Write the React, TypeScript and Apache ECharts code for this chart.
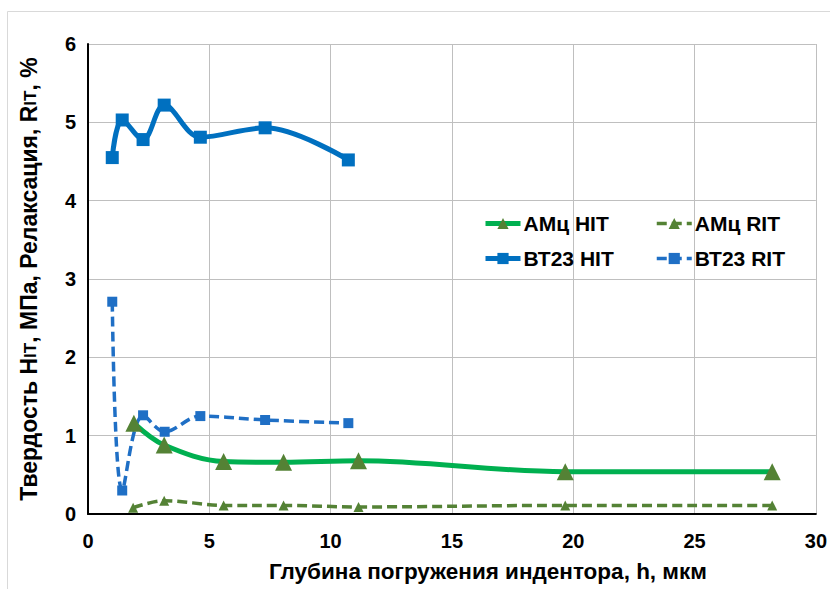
import React, { useEffect, useRef } from "react";
import * as echarts from "echarts";

const amcHitX = [1.89, 3.14, 5.59, 8.06, 11.15, 19.67, 28.2];
const amcHitY = [1.16, 0.88, 0.67, 0.66, 0.68, 0.54, 0.54];
const amcRitX = [1.86, 3.14, 5.59, 8.06, 11.15, 19.67, 28.2];
const amcRitY = [0.08, 0.17, 0.11, 0.11, 0.09, 0.11, 0.11];
const bt23HitX = [1.0, 1.41, 2.27, 3.14, 4.63, 7.3, 10.73];
const bt23HitY = [4.55, 5.03, 4.78, 5.22, 4.81, 4.93, 4.52];
const bt23RitX = [1.0, 1.41, 2.27, 3.16, 4.63, 7.3, 10.73];
const bt23RitY = [2.71, 0.3, 1.26, 1.05, 1.25, 1.2, 1.16];

const names = ["АМц HIT", "АМц RIT", "ВТ23 HIT", "ВТ23 RIT"];

const zip = (xs: number[], ys: number[]) => xs.map((x, i) => [x, ys[i]]);

const FONT = "'Liberation Sans', Arial, sans-serif";

export default function App() {
  const ref = useRef<HTMLDivElement>(null);
  useEffect(() => {
    document.body.style.margin = "0";
    const chart = echarts.init(ref.current!, null, { renderer: "svg" });
    const legendText = { fontFamily: FONT, fontSize: 21, fontWeight: "bold", color: "#000", padding: [0, 0, 0, -2] };
    chart.setOption({
      animation: false,
      backgroundColor: "#ffffff",
      textStyle: { fontFamily: FONT },
      graphic: [
        {
          type: "rect",
          shape: { x: 7.5, y: 11.5, width: 900, height: 700 },
          style: { fill: "none", stroke: "#d9d9d9", lineWidth: 1 },
          silent: true,
        },
      ],
      grid: { left: 88, right: 14, top: 44, bottom: 75 },
      legend: [
        {
          data: [names[0], names[2]],
          orient: "vertical",
          left: 478,
          top: 208,
          itemWidth: 35,
          itemHeight: 14,
          itemGap: 14,
          lineStyle: { width: 5 },
          textStyle: legendText,
        },
        {
          data: [names[1], names[3]],
          orient: "vertical",
          left: 650,
          top: 208,
          itemWidth: 35,
          itemHeight: 14,
          itemGap: 14,
          lineStyle: { width: 3.5 },
          textStyle: legendText,
        },
      ],
      xAxis: {
        type: "value",
        min: 0,
        max: 30,
        interval: 5,
        name: "Глубина погружения индентора, h, мкм",
        nameLocation: "middle",
        nameGap: 46,
        nameTextStyle: { fontFamily: FONT, fontSize: 22.5, fontWeight: "bold", color: "#000", padding: [0, 0, 0, 72] },
        axisLine: { lineStyle: { color: "#000", width: 2 } },
        axisTick: { show: false },
        axisLabel: { margin: 17, fontFamily: FONT, fontSize: 20, fontWeight: "bold", color: "#000" },
        splitLine: { show: true, lineStyle: { color: "#bfbfbf", width: 1 } },
      },
      yAxis: {
        type: "value",
        min: 0,
        max: 6,
        interval: 1,
        name:
          "{a|Твердость H}{b|IT}{a|, МПа, Релаксация, R}{b|IT}{a|, %}",
        nameLocation: "middle",
        nameGap: 48,
        nameTextStyle: {
          fontFamily: FONT,
          fontSize: 23,
          fontWeight: "bold",
          color: "#000",
          rich: {
            a: { fontFamily: FONT, fontSize: 23, fontWeight: "bold", color: "#000" },
            b: { fontFamily: FONT, fontSize: 17, fontWeight: "bold", color: "#000", verticalAlign: "bottom", padding: [0, 0, 1, 0] },
          },
        },
        axisLine: { show: true, lineStyle: { color: "#000", width: 2 } },
        axisTick: { show: false },
        axisLabel: { margin: 12, fontFamily: FONT, fontSize: 20, fontWeight: "bold", color: "#000" },
        splitLine: { show: true, lineStyle: { color: "#bfbfbf", width: 1 } },
      },
      series: [
        {
          name: names[0],
          type: "line",
          smooth: 0.35,
          data: zip(amcHitX, amcHitY),
          symbol: "triangle",
          symbolSize: 17,
          itemStyle: { color: "#548235" },
          lineStyle: { color: "#00b050", width: 5 },
          z: 3,
        },
        {
          name: names[1],
          type: "line",
          smooth: 0.35,
          data: zip(amcRitX, amcRitY),
          symbol: "triangle",
          symbolSize: 10,
          itemStyle: { color: "#548235" },
          lineStyle: { color: "#548235", width: 3.5, type: [10, 5] },
          z: 2,
        },
        {
          name: names[2],
          type: "line",
          smooth: 0.35,
          data: zip(bt23HitX, bt23HitY),
          symbol: "rect",
          symbolSize: 13,
          itemStyle: { color: "#0070c0" },
          lineStyle: { color: "#0070c0", width: 5 },
          z: 3,
        },
        {
          name: names[3],
          type: "line",
          smooth: 0.35,
          data: zip(bt23RitX, bt23RitY),
          symbol: "rect",
          symbolSize: 10,
          itemStyle: { color: "#1f6fc5" },
          lineStyle: { color: "#1f6fc5", width: 3.5, type: [10, 5] },
          z: 2,
        },
      ],
    });
    return () => chart.dispose();
  }, []);
  return <div ref={ref} style={{ width: 830, height: 589 }} />;
}
